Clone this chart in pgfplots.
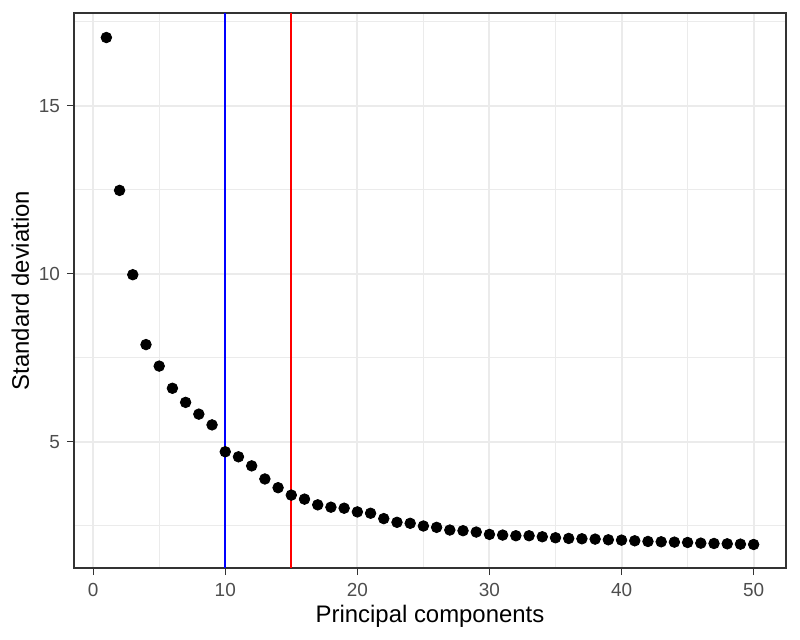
\documentclass[border=0pt]{standalone}
\usepackage{fontspec}
\setmainfont{Liberation Sans}
\usepackage{pgfplots}
\pgfplotsset{compat=1.18}
\definecolor{gridmaj}{HTML}{EBEBEB}
\definecolor{ticktext}{HTML}{4D4D4D}
\definecolor{frame}{HTML}{333333}
\begin{document}
\begin{tikzpicture}
\begin{axis}[
  scale only axis,
  width=356bp, height=277.5bp,
  xmin=-1.45, xmax=52.45,
  ymin=1.24, ymax=17.76,
  xtick={0,10,20,30,40,50},
  ytick={5,10,15},
  minor xtick={5,15,25,35,45},
  minor ytick={2.5,7.5,12.5,17.5},
  grid=both,
  major grid style={color=gridmaj, line width=1bp},
  minor grid style={color=gridmaj, line width=0.55bp},
  axis line style={color=frame, line width=0.6bp},
  tick align=outside,
  tick pos=left,
  major tick length=3.5bp,
  minor tick length=0pt,
  tick style={color=frame, line width=0.6bp},
  /pgf/number format/assume math mode=true,
  ticklabel style={font=\fontsize{9.5}{11}\selectfont, color=ticktext},
  xticklabel style={yshift=-0.5bp},
  label style={font=\fontsize{12}{14}\selectfont, color=black},
  xlabel={Principal components},
  ylabel={Standard deviation},
  xlabel style={yshift=2.5bp},
  ylabel style={yshift=-2bp},
  clip=true,
]
\addplot[blue, line width=1bp] coordinates {(10,1.24) (10,17.76)};
\addplot[red, line width=1bp] coordinates {(15,1.24) (15,17.76)};
\addplot[only marks, mark=*, mark size=2.65bp, mark options={fill=black, draw=black}] coordinates {
(1,17.03) (2,12.48) (3,9.97) (4,7.89) (5,7.25) (6,6.59) (7,6.17) (8,5.82) (9,5.50) (10,4.70)
(11,4.55) (12,4.28) (13,3.89) (14,3.63) (15,3.41) (16,3.29) (17,3.12) (18,3.05) (19,3.02) (20,2.91)
(21,2.87) (22,2.71) (23,2.60) (24,2.57) (25,2.49) (26,2.45) (27,2.37) (28,2.35) (29,2.31) (30,2.24)
(31,2.22) (32,2.20) (33,2.20) (34,2.17) (35,2.14) (36,2.12) (37,2.11) (38,2.10) (39,2.08) (40,2.07)
(41,2.05) (42,2.03) (43,2.02) (44,2.01) (45,2.00) (46,1.98) (47,1.97) (48,1.96) (49,1.95) (50,1.94)
};
\coordinate (sw) at (rel axis cs:0,0);
\coordinate (ne) at (rel axis cs:1,1);
\end{axis}
\pgfresetboundingbox
\path ([shift={(-37bp,-36bp)}]sw) rectangle ([shift={(7bp,6.5bp)}]ne);
\end{tikzpicture}
\end{document}
